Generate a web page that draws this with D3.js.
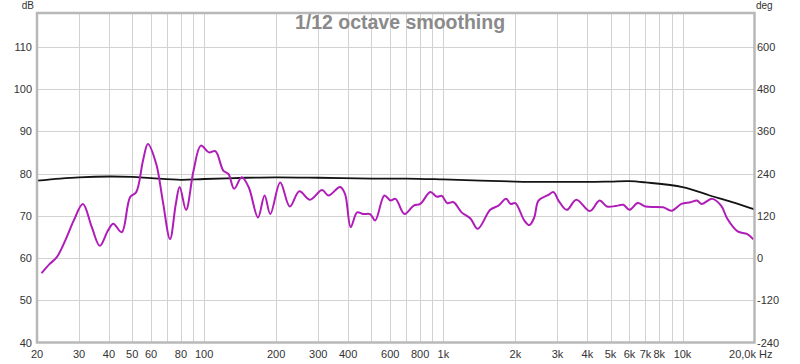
<!DOCTYPE html>
<html><head><meta charset="utf-8">
<script src="https://cdn.jsdelivr.net/npm/d3@7"></script>
<style>
html,body{margin:0;padding:0;background:#fff;}
svg{display:block;font-family:"Liberation Sans",Arial,sans-serif;}
</style></head>
<body><svg id="chart" width="800" height="364"></svg>
<script>
// Magenta trace (1/12 octave smoothed SPL), Hz / dB
const magFreq = [20.9,22.6,24.2,26.6,28.5,31.1,33.9,36.6,39.6,41.7,45.2,49.0,52.0,55.5,58.2,63.0,67.1,72.0,76.1,79.0,84.0,90.3,96.9,104.7,111.4,120.2,126.3,133.4,143.6,153.4,167.9,178.9,189,208,228,250,277,311,331,370,388,410,436,462,494,519,567,601,631,688,752,801,882,940,986,1038,1104,1192,1300,1392,1571,1700,1829,1912,2000,2180,2290,2400,2500,2740,2890,3030,3280,3600,4100,4500,4830,5250,5660,6000,6500,7000,8300,9000,9900,10800,11500,12000,13300,14500,15400,17000,18600,19800];
const magDb = [56.4,58.6,60.2,64.9,68.9,72.8,67.3,62.9,66.5,68.1,66.1,74.4,75.6,83.1,87.0,82.3,73.6,64.5,72.8,76.8,71.4,80.7,86.6,85.0,85.3,80.7,79.9,76.4,79.1,76.8,69.6,74.8,70.4,77.9,72.2,75.8,73.8,76.1,74.8,76.8,75.2,67.3,70.8,70.4,70.4,68.9,74.8,73.6,74.0,70.4,72.4,72.8,75.6,74.5,74.7,73.0,73.2,70.8,69.3,66.9,71.4,72.4,74.0,72.8,73.0,68.9,67.8,69.6,73.6,74.9,75.6,73.6,71.4,73.8,71.1,73.6,72.2,72.3,72.6,71.4,73.0,72.2,72.0,71.2,72.8,73.2,73.6,72.8,74.0,72.4,69.3,66.3,65.7,64.4];
// Black trace, Hz / dB
const blkFreq = [20,25,30,40,50,60,80,100,150,200,300,500,700,1000,2000,3000,4000,5000,6000,7000,10000,13000,16000,20000];
const blkDb = [78.3,78.8,79.1,79.3,79.2,78.9,78.5,78.7,79.0,79.1,79.0,78.8,78.8,78.6,78.1,78.0,78.0,78.1,78.2,77.9,76.8,74.8,73.3,71.5];

const dbTicks = [50,60,70,80,90,100,110];
const dbLabelTicks = [40,50,60,70,80,90,100,110];
const degTicks = [-240,-120,0,120,240,360,480,600];
const freqGrid = [30,40,50,60,70,80,90,100,200,300,400,500,600,700,800,900,1000,2000,3000,4000,5000,6000,7000,8000,9000,10000];
const freqLabels = [[20,"20"],[30,"30"],[40,"40"],[50,"50"],[60,"60"],[80,"80"],[100,"100"],[200,"200"],[300,"300"],[400,"400"],[600,"600"],[800,"800"],[1000,"1k"],[2000,"2k"],[3000,"3k"],[4000,"4k"],[5000,"5k"],[6000,"6k"],[7000,"7k"],[8000,"8k"],[10000,"10k"]];

const svg = d3.select("#chart");
const L = 37, R = 754.5, T = 13, B = 342.5;
const x = d3.scaleLog().domain([20,20000]).range([L,R]);
const y = d3.scaleLinear().domain([40,118]).range([B,T]);
const yDeg = d3.scaleLinear().domain([-240,696]).range([B,T]);

const g = svg.append("g");
// grid
g.selectAll(".vg").data(freqGrid).enter().append("line")
  .attr("x1",d=>Math.round(x(d))+0.5).attr("x2",d=>Math.round(x(d))+0.5)
  .attr("y1",T).attr("y2",B).attr("stroke","#d2d2d2").attr("stroke-width",1);
g.selectAll(".hg").data(dbTicks).enter().append("line")
  .attr("x1",L).attr("x2",R).attr("y1",d=>Math.round(y(d))+0.5).attr("y2",d=>Math.round(y(d))+0.5)
  .attr("stroke","#d2d2d2").attr("stroke-width",1);

// curves
const line = d3.line().curve(d3.curveCatmullRom.alpha(0.5));
svg.append("clipPath").attr("id","pc").append("rect").attr("x",L).attr("y",T).attr("width",R-L).attr("height",B-T);
g.append("path").attr("clip-path","url(#pc)")
  .attr("d", line(blkFreq.map((f,i)=>[x(f), y(blkDb[i])])))
  .attr("fill","none").attr("stroke","#141414").attr("stroke-width",1.8);
g.append("path").attr("clip-path","url(#pc)")
  .attr("d", line(magFreq.map((f,i)=>[x(f), y(magDb[i])])))
  .attr("fill","none").attr("stroke","#b01cb8").attr("stroke-width",2);

// frame
g.append("rect").attr("x",L).attr("y",T).attr("width",R-L).attr("height",B-T)
  .attr("fill","none").attr("stroke","#b8b8b8").attr("stroke-width",2.5);

// left labels
g.selectAll(".yl").data(dbLabelTicks).enter().append("text")
  .attr("x",32).attr("y",d=>y(d)+4).attr("text-anchor","end")
  .attr("font-size",11).attr("fill","#333").text(d=>d);
g.append("text").attr("x",34).attr("y",9).attr("text-anchor","end").attr("font-size",10).attr("fill","#333").text("dB");
// right labels
g.selectAll(".rl").data(degTicks).enter().append("text")
  .attr("x",757).attr("y",d=>yDeg(d)+4).attr("text-anchor","start")
  .attr("font-size",11).attr("fill","#333").text(d=>d);
g.append("text").attr("x",756).attr("y",9).attr("font-size",10).attr("fill","#333").text("deg");
// bottom labels
g.selectAll(".xl").data(freqLabels).enter().append("text")
  .attr("x",d=>x(d[0])).attr("y",358).attr("text-anchor","middle")
  .attr("font-size",11).attr("fill","#333").text(d=>d[1]);
g.append("text").attr("x",756).attr("y",358).attr("text-anchor","end").attr("font-size",11).attr("fill","#333").text("20,0k");
g.append("text").attr("x",759).attr("y",358).attr("font-size",11).attr("fill","#333").text("Hz");

// title
g.append("text").attr("x",400).attr("y",29).attr("text-anchor","middle")
  .attr("font-size",19.5).attr("font-weight","bold").attr("fill","#8a8a8a").text("1/12 octave smoothing");
</script></body></html>
